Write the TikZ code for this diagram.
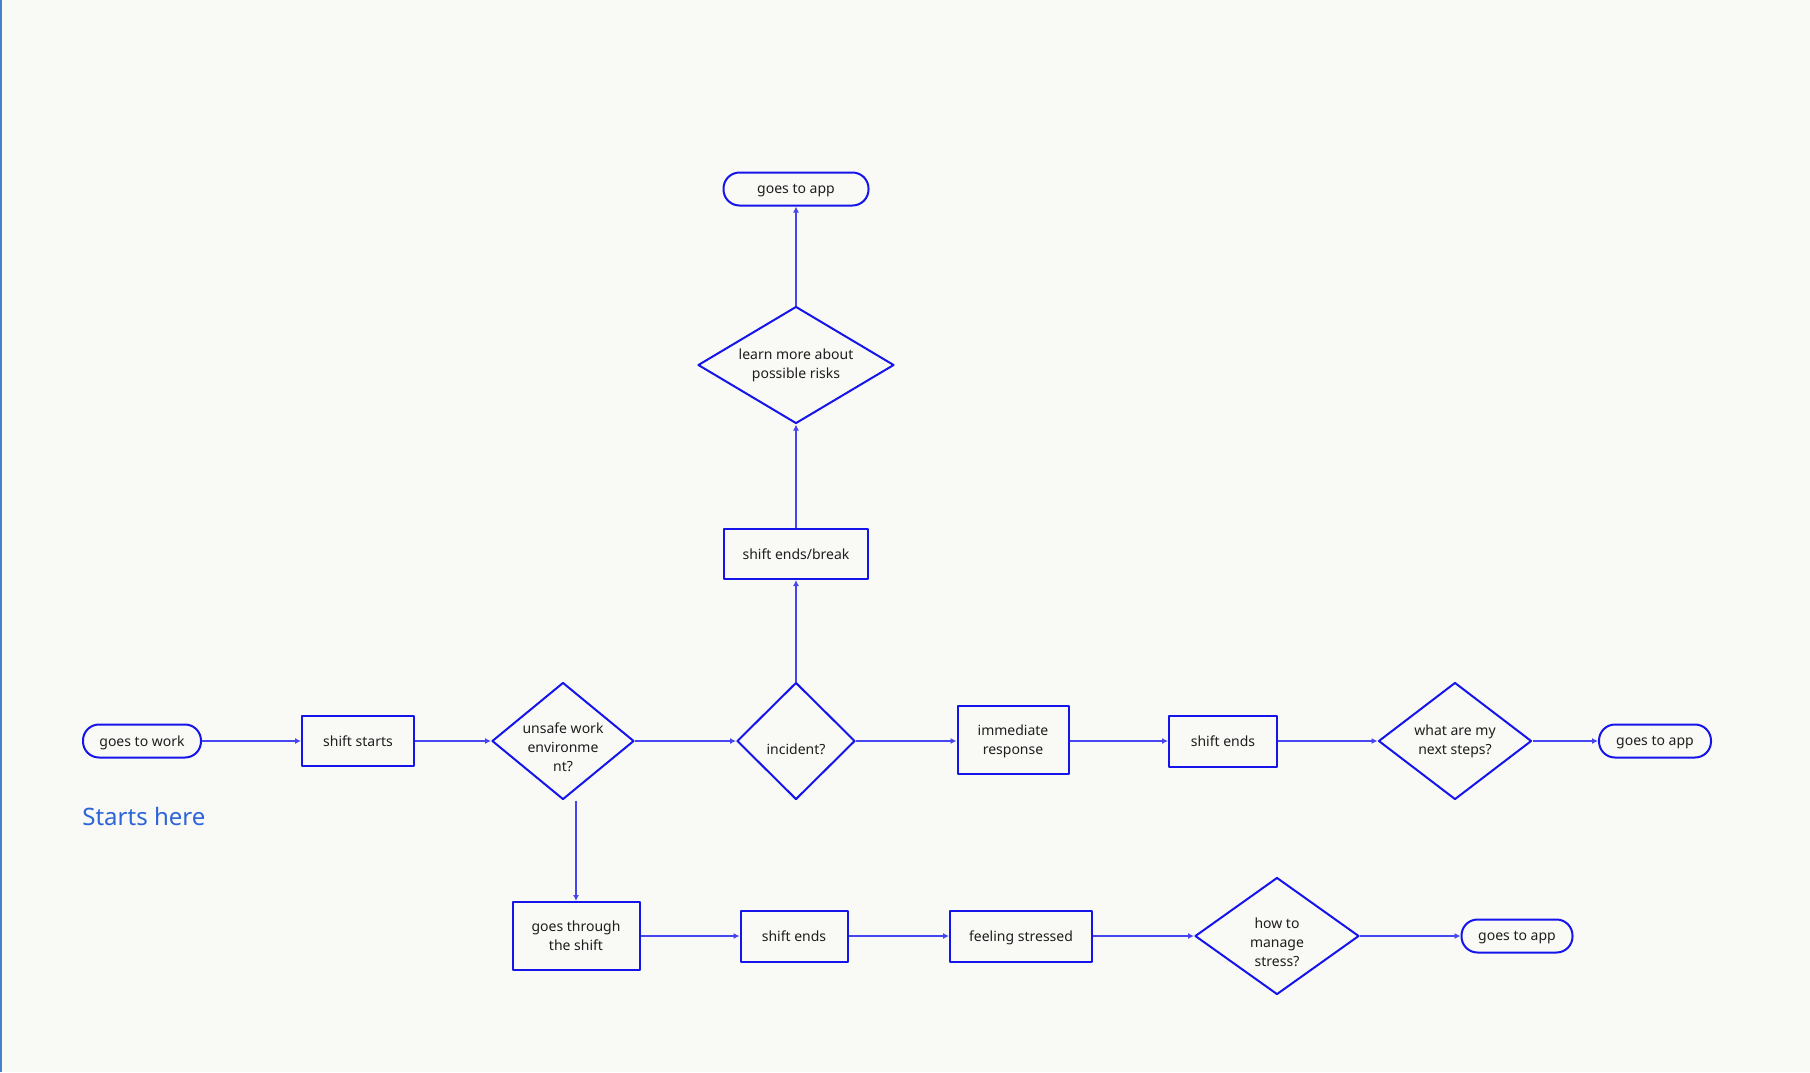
\documentclass[tikz,border=0pt]{standalone}
\usepackage{fontspec}
\setmainfont{Noto Sans}
\usetikzlibrary{shapes.geometric,arrows.meta}

\definecolor{flowblue}{RGB}{20,20,235}
\definecolor{linkblue}{RGB}{70,70,240}
\definecolor{noteblue}{RGB}{45,100,215}
\definecolor{edgeblue}{RGB}{70,130,200}
\definecolor{paper}{RGB}{249,249,246}
\definecolor{inkgray}{RGB}{30,30,30}

\begin{document}
\begin{tikzpicture}[x=0.5pt,y=-0.5pt,line join=round,>={Latex[length=3pt,width=3pt]},
  every node/.style={inner sep=0pt,font=\fontsize{7}{9.5}\selectfont,text=inkgray,align=center},
  terminal/.style={draw=flowblue,line width=1pt,rounded corners=8pt,minimum height=16.5pt,text depth=0pt},
  process/.style={draw=flowblue,line width=1pt,rectangle},
  decision/.style={draw=flowblue,line width=1pt,diamond,minimum height=58.5pt},
  lowthree/.style={text height=30.5pt,text depth=0pt,inner ysep=-4pt},
  link/.style={draw=linkblue,line width=0.6pt,->}]
  % 背景
  \fill[paper] (0,0) rectangle (1810,1072);
  \useasboundingbox (0,0) rectangle (1810,1072);
  \draw[edgeblue,line width=1pt] (1,0) -- (1,1072);
  % 主线
  \node[terminal,minimum width=59pt] (work) at (142,741) {goes to work};
  \node[font=\fontsize{12}{14}\selectfont,text=noteblue,anchor=west] (note) at (82,816) {Starts here};
  \node[process,minimum width=56pt,minimum height=25pt,text depth=0pt] (start) at (358,741) {shift starts};
  \node[decision,minimum width=71pt,aspect=1.21,lowthree] (unsafe) at (563,741) {unsafe work\\environme\\nt?};
  \node[decision,minimum width=59pt,aspect=1,text height=13pt,text depth=0pt] (incident) at (796,741) {incident?};
  \node[process,minimum width=55.5pt,minimum height=34pt,text depth=0pt] (response) at (1013,740) {immediate\\response};
  \node[process,minimum width=54pt,minimum height=25.5pt] (endsA) at (1223,741) {shift ends};
  \node[decision,minimum width=76.5pt,aspect=1.31] (next) at (1455,741) {what are my\\next steps?};
  \node[terminal,minimum width=56pt] (appA) at (1655,741) {goes to app};
  % 上支
  \node[process,minimum width=72pt,minimum height=25pt] (pause) at (796,554) {shift ends/break};
  \node[decision,minimum width=98pt,aspect=1.68] (learn) at (796,365) {learn more about\\possible risks};
  \node[terminal,minimum width=72.5pt] (appB) at (796,189) {goes to app};
  % 下支
  \node[process,minimum width=63.5pt,minimum height=34pt] (through) at (576,936) {goes through\\the shift};
  \node[process,minimum width=53.5pt,minimum height=25.5pt] (endsB) at (794,936) {shift ends};
  \node[process,minimum width=71pt,minimum height=25.5pt,text depth=0pt] (stressed) at (1021,936) {feeling stressed};
  \node[decision,minimum width=82pt,aspect=1.4,lowthree] (manage) at (1277,936) {how to\\manage\\stress?};
  \node[terminal,minimum width=55.5pt] (appC) at (1517,936) {goes to app};
  % 连线
  \draw[link] (work) -- (start);
  \draw[link] (start) -- (unsafe);
  \draw[link] (unsafe) -- (incident);
  \draw[link] (incident) -- (response.west |- incident.east);
  \draw[link] (response.east |- endsA.west) -- (endsA);
  \draw[link] (endsA) -- (next);
  \draw[link] (next) -- (appA);
  \draw[link] (incident) -- (pause);
  \draw[link] (pause) -- (learn);
  \draw[link] (learn) -- (appB);
  \draw[link] (unsafe.south -| through.north) -- (through.north);
  \draw[link] (through) -- (endsB);
  \draw[link] (endsB) -- (stressed);
  \draw[link] (stressed) -- (manage);
  \draw[link] (manage) -- (appC);
\end{tikzpicture}
\end{document}
